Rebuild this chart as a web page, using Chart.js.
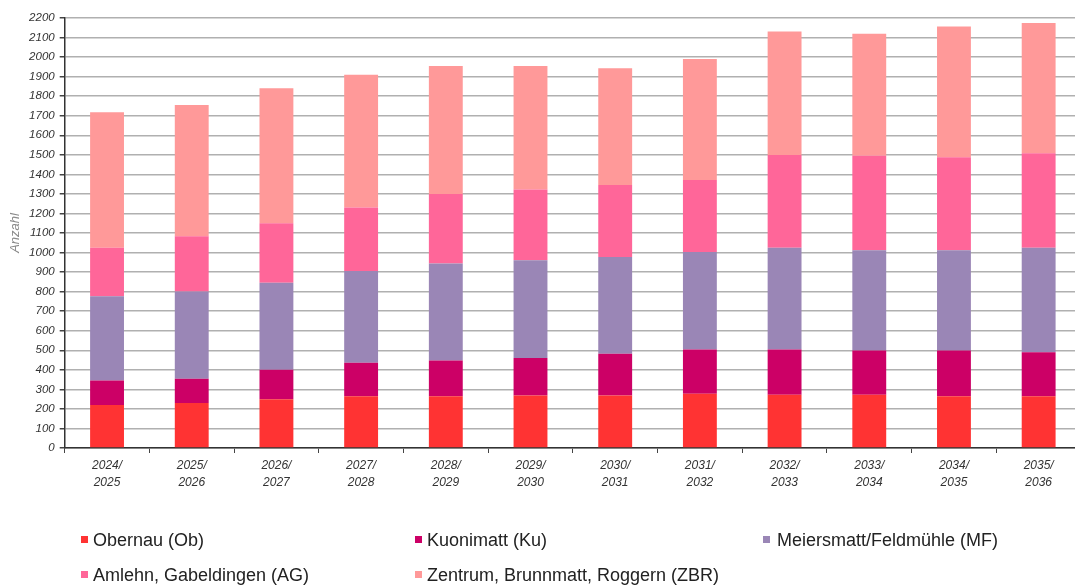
<!DOCTYPE html>
<html>
<head>
<meta charset="utf-8">
<script src="https://cdn.jsdelivr.net/npm/chart.js@4.4.1/dist/chart.umd.min.js"></script>
<style>
  html, body { margin: 0; padding: 0; background: #fff; overflow: hidden; }
  #wrap { position: relative; width: 1082px; height: 585px; }
  #legend { position: absolute; left: 0; top: 0; width: 1075px; height: 585px; pointer-events: none;
    font-family: "Liberation Sans", Arial, sans-serif; font-size: 18px; color: #222; }
  .li { position: absolute; white-space: nowrap; line-height: 20px; }
  .sq { position: absolute; width: 7px; height: 7px; }
</style>
</head>
<body>
<div id="wrap">
  <canvas id="c" width="1082" height="585"></canvas>
  <div id="legend"></div>
</div>
<script>
// Categories (school years)
const categories = [
  ["2024/","2025"],["2025/","2026"],["2026/","2027"],["2027/","2028"],
  ["2028/","2029"],["2029/","2030"],["2030/","2031"],["2031/","2032"],
  ["2032/","2033"],["2033/","2034"],["2034/","2035"],["2035/","2036"]
];
// Series values (segment sizes, stacked)
const obernau    = [220, 230, 250, 265, 265, 268, 268, 277, 272, 272, 265, 265];
const kuonimatt  = [125, 124, 150, 171, 183, 193, 214, 227, 232, 227, 234, 225];
const meiersmatt = [432, 447, 446, 470, 496, 499, 495, 499, 520, 513, 513, 534];
const amlehn     = [248, 282, 304, 325, 355, 363, 368, 368, 475, 483, 475, 484];
const zentrum    = [693, 672, 690, 679, 656, 632, 598, 619, 632, 624, 670, 666];

const seriesNames = [
  "Obernau (Ob)", "Kuonimatt (Ku)", "Meiersmatt/Feldmühle (MF)",
  "Amlehn, Gabeldingen (AG)", "Zentrum, Brunnmatt, Roggern (ZBR)"
];
const seriesColors = ["#FF3333", "#CC0066", "#9A86B6", "#FF6699", "#FF9999"];
const seriesData = [obernau, kuonimatt, meiersmatt, amlehn, zentrum];

const yMax = 2200, yStep = 100;
const yTitle = "Anzahl";

const datasets = seriesData.map((d, i) => ({
  label: seriesNames[i],
  data: d,
  backgroundColor: seriesColors[i],
  borderWidth: 0,
  barPercentage: 0.4,
  categoryPercentage: 1.0
}));

new Chart(document.getElementById('c'), {
  type: 'bar',
  data: { labels: categories, datasets },
  options: {
    responsive: false,
    animation: false,
    layout: { padding: { left: 0, right: 1, top: 18, bottom: 87 } },
    plugins: { legend: { display: false }, tooltip: { enabled: false } },
    scales: {
      x: {
        stacked: true,
        grid: { offset: true, drawOnChartArea: false, drawTicks: true, tickLength: 5, tickColor: '#444', lineWidth: 1 },
        border: { display: true, color: '#333', width: 1.5 },
        ticks: {
          color: '#333', padding: 5, maxRotation: 0,
          font: { family: '"Liberation Sans", Arial, sans-serif', size: 12, style: 'italic', lineHeight: 1.35 }
        },
        afterFit: s => { s.height = 50; }
      },
      y: {
        stacked: true, min: 0, max: yMax,
        grid: { color: '#b0b0b0', lineWidth: 1.5, drawTicks: true, tickLength: 5, tickColor: '#444' },
        border: { display: true, color: '#333', width: 1.5 },
        ticks: {
          stepSize: yStep, color: '#333', padding: 5,
          callback: v => String(v),
          font: { family: '"Liberation Sans", Arial, sans-serif', size: 11.5, style: 'italic' }
        },
        title: {
          display: true, text: yTitle, color: '#8a8a8a', padding: { top: 8, bottom: 0 },
          font: { family: '"Liberation Sans", Arial, sans-serif', size: 13, style: 'italic' }
        },
        afterFit: s => { s.width = 64.7; }
      }
    }
  }
});

// Legend (3 columns, 2 rows)
const legendPos = [
  { sx: 81, tx: 93, cy: 540 }, { sx: 415, tx: 427, cy: 540 }, { sx: 763, tx: 777, cy: 540 },
  { sx: 81, tx: 93, cy: 575 }, { sx: 415, tx: 427, cy: 575 }
];
const lg = document.getElementById('legend');
seriesNames.forEach((n, i) => {
  const p = legendPos[i];
  const sq = document.createElement('div');
  sq.className = 'sq';
  sq.style.left = p.sx + 'px'; sq.style.top = (p.cy - 4) + 'px';
  sq.style.background = seriesColors[i];
  lg.appendChild(sq);
  const t = document.createElement('div');
  t.className = 'li';
  t.style.left = p.tx + 'px'; t.style.top = (p.cy - 10) + 'px';
  t.textContent = n;
  lg.appendChild(t);
});
</script>
</body>
</html>
